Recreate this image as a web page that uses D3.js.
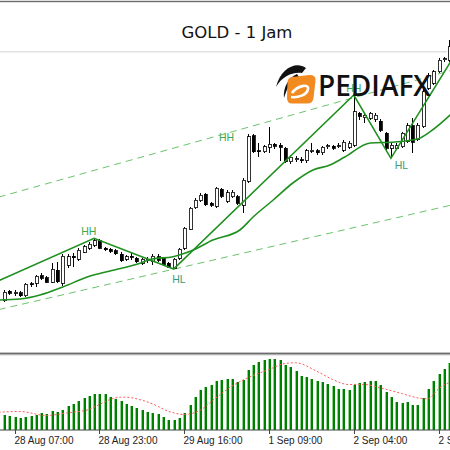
<!DOCTYPE html>
<html><head><meta charset="utf-8">
<script src="https://cdn.jsdelivr.net/npm/d3@7"></script>
<style>html,body{margin:0;padding:0;background:#fff;}svg{display:block;}</style>
</head><body>
<svg id="c" width="450" height="450"></svg>
<script>
// ---- data ----
const title = "GOLD - 1 Jam";
const open  = [1274.93,1275.90,1275.70,1275.73,1275.43,1276.65,1276.67,1277.43,1277.23,1276.77,1278.00,1276.70,1278.50,1279.40,1279.07,1279.80,1280.20,1280.50,1280.95,1280.20,1280.07,1279.95,1279.60,1279.07,1279.37,1279.17,1278.70,1279.00,1278.83,1279.33,1279.17,1278.67,1278.20,1279.17,1280.17,1282.10,1284.23,1284.95,1285.57,1284.67,1284.40,1286.07,1284.90,1285.33,1285.33,1284.50,1286.90,1291.45,1289.93,1289.83,1290.27,1290.57,1290.50,1290.17,1288.83,1289.07,1289.05,1288.93,1289.88,1289.93,1289.73,1290.32,1290.40,1290.35,1290.00,1290.27,1290.50,1293.67,1293.23,1293.17,1293.10,1292.90,1291.67,1290.17,1290.17,1290.33,1290.83,1292.43,1291.10,1292.33,1296.17,1296.67,1297.83,1299.05,1299.00];
const high  = [1276.00,1276.05,1276.00,1275.90,1276.70,1276.83,1277.50,1277.67,1277.40,1278.67,1278.83,1279.60,1279.60,1279.67,1280.17,1280.50,1280.80,1281.17,1281.10,1280.30,1280.20,1280.10,1279.80,1279.50,1279.75,1279.33,1279.20,1279.30,1279.60,1279.60,1279.30,1278.80,1279.20,1280.20,1282.30,1284.30,1285.20,1285.75,1285.73,1284.83,1286.33,1286.20,1286.00,1286.00,1285.50,1287.17,1291.60,1291.60,1290.67,1290.50,1292.30,1290.70,1290.67,1290.30,1289.50,1289.40,1289.30,1290.10,1290.67,1290.10,1290.43,1290.60,1290.55,1290.67,1290.97,1290.90,1295.50,1293.83,1293.70,1293.83,1293.67,1293.10,1291.83,1290.67,1290.67,1291.83,1292.67,1293.17,1292.67,1296.17,1297.70,1298.00,1299.20,1299.30,1301.00];
const low   = [1274.80,1275.50,1275.40,1275.30,1275.30,1276.33,1276.33,1277.00,1276.67,1276.67,1276.73,1276.40,1278.20,1278.33,1278.90,1279.67,1280.00,1280.33,1280.07,1279.90,1279.75,1279.50,1278.80,1278.90,1279.05,1278.70,1278.55,1278.70,1278.50,1278.80,1278.40,1278.20,1278.10,1279.05,1280.00,1282.00,1284.10,1284.80,1284.40,1284.33,1284.23,1285.20,1284.70,1285.17,1284.50,1283.70,1286.75,1289.70,1289.33,1289.67,1289.70,1290.10,1288.90,1288.70,1288.60,1288.80,1288.75,1288.75,1289.67,1289.55,1289.55,1290.13,1290.00,1290.17,1289.83,1290.10,1290.33,1293.00,1292.70,1293.00,1292.83,1291.83,1290.00,1289.17,1290.00,1290.17,1290.67,1289.67,1290.93,1292.17,1296.00,1296.50,1297.70,1298.85,1298.80];
const close = [1275.80,1275.67,1275.80,1275.43,1276.57,1276.55,1277.40,1277.17,1276.77,1278.07,1276.83,1279.40,1279.33,1279.25,1280.00,1280.33,1280.60,1280.95,1280.17,1280.05,1279.87,1279.65,1278.95,1279.33,1279.27,1278.85,1279.07,1279.05,1279.40,1279.00,1278.55,1278.27,1279.07,1280.10,1282.17,1284.17,1284.97,1285.50,1284.55,1284.50,1286.17,1285.40,1285.73,1285.80,1284.67,1287.00,1291.33,1289.83,1289.83,1290.33,1290.60,1290.40,1290.30,1288.83,1289.27,1289.12,1288.93,1289.93,1289.98,1289.73,1290.27,1290.42,1290.17,1290.45,1290.77,1290.70,1293.83,1293.40,1293.50,1293.67,1293.50,1292.00,1290.17,1290.50,1290.43,1291.67,1292.43,1290.77,1292.50,1295.83,1297.50,1297.83,1299.00,1299.15,1300.33];

// oscillator histogram and its signal line
const hist = [1.5,1.4,1.3,1.13,1.23,1.33,1.5,1.67,1.6,1.87,1.73,2.0,2.33,2.6,2.83,3.13,3.4,3.6,3.6,3.53,3.27,3.07,2.83,2.6,2.4,2.13,1.93,1.8,1.67,1.6,1.27,1.0,1.0,1.13,1.67,2.5,3.27,4.0,4.27,4.47,4.83,4.93,5.03,5.03,4.77,5.0,6.0,6.47,6.73,6.93,7.07,7.07,6.93,6.5,6.23,5.9,5.4,5.27,5.07,4.9,4.73,4.6,4.4,4.1,4.07,3.93,4.43,4.67,4.8,4.9,4.83,4.47,3.77,3.23,2.8,2.67,2.73,2.47,2.47,3.13,4.07,4.9,5.6,6.07,6.67];
const sigIdx = [-1,3,8,12,16,18,20,22,23,26,28,31,34,37,40,43,46,50,53,55,59,62,65,68,71,75,78,80,82,84.5];
const sigVal = [1.73,1.8,1.4,1.67,2.0,2.5,3.0,3.23,3.23,2.93,2.57,1.83,1.5,1.93,3.17,4.33,5.17,6.0,6.6,6.67,5.83,5.0,4.5,4.5,4.17,3.6,3.17,3.07,4.07,4.83];

// moving average (readings)
const maIdx = [-1,3,6.8,11.1,15.7,20,25.8,27.9,31.9,35.7,39.4,44.5,47,50.8,54.5,58.3,61.5,64.3,69.1,73.8,78,80.4,85];
const maVal = [1275.0,1275.1,1275.5,1276.3,1277.3,1277.9,1278.7,1279.1,1279.33,1280.0,1281.0,1282.0,1283.3,1285.0,1286.7,1288.0,1288.5,1289.3,1290.7,1290.8,1291.1,1291.83,1293.9];

// zigzag swing points
const zzIdx = [-2,17,32,66,73,86];
const zzVal = [1276.7,1281.17,1278.1,1295.5,1289.17,1300.3];

// channel (dashed) lines: [idx0, val0, idx1, val1]
const chanUpper = [-1,1285.29,86,1298.2];
const chanLower = [-1,1274.04,86,1284.69];

// swing labels
const lblText  = ["HH","HL","HH","HH","HL"];
const lblIdx   = [16,33,42,66,75];
const lblPrice = [1281.9,1277.07,1291.33,1296.2,1288.5];

// time axis
const tickIdx = [2,18,34,50,66,82];
const tickLbl = ["28 Aug 07:00","28 Aug 23:00","29 Aug 16:00","1 Sep 09:00","2 Sep 04:00","2 Sep 20:00"];

// ---- drawing ----
const svg = d3.select("#c");
const W = 450;
const x = d3.scaleLinear().domain([0,84]).range([4,449.2]);
const y = d3.scaleLinear().domain([1270,1305]).range([350,0]);
const yh = d3.scaleLinear().domain([0,7.5]).range([429.5,354.5]);

svg.append("rect").attr("width",450).attr("height",450).attr("fill","#fff");
const defs = svg.append("defs");
defs.append("clipPath").attr("id","pc").append("rect").attr("x",0).attr("y",0).attr("width",W).attr("height",352);
defs.append("clipPath").attr("id","hc").append("rect").attr("x",0).attr("y",356).attr("width",W).attr("height",74);

const P = svg.append("g").attr("clip-path","url(#pc)");

// channel lines
[chanUpper, chanLower].forEach(c=>{
  P.append("line").attr("x1",x(c[0])).attr("y1",y(c[1])).attr("x2",x(c[2])).attr("y2",y(c[3]))
   .attr("stroke","#6cc36c").attr("stroke-width",1).attr("stroke-dasharray","7,5");
});

// candles
const idx = d3.range(open.length);
const cg = P.append("g").attr("shape-rendering","crispEdges");
cg.selectAll("line.w").data(idx).join("line")
  .attr("x1",i=>Math.round(x(i))+0.5).attr("x2",i=>Math.round(x(i))+0.5)
  .attr("y1",i=>y(high[i])).attr("y2",i=>y(low[i]))
  .attr("stroke","#000").attr("stroke-width",1);
cg.selectAll("rect.b").data(idx).join("rect")
  .attr("x",i=>Math.round(x(i))-1)
  .attr("y",i=>y(Math.max(open[i],close[i])))
  .attr("width",3)
  .attr("height",i=>Math.max(1,Math.abs(y(open[i])-y(close[i]))))
  .attr("fill",i=>close[i]>=open[i]?"#fff":"#000")
  .attr("stroke","#000").attr("stroke-width",0.8);

// moving average
P.append("path").datum(maIdx.map((d,i)=>[d,maVal[i]]))
  .attr("d",d3.line().x(d=>x(d[0])).y(d=>y(d[1])).curve(d3.curveMonotoneX))
  .attr("fill","none").attr("stroke","#1f8f1f").attr("stroke-width",1.6);
// zigzag
P.append("path").datum(zzIdx.map((d,i)=>[d,zzVal[i]]))
  .attr("d",d3.line().x(d=>x(d[0])).y(d=>y(d[1])))
  .attr("fill","none").attr("stroke","#1f8f1f").attr("stroke-width",1.6);

// labels
P.selectAll("text.l").data(lblText).join("text")
  .attr("x",(d,i)=>x(lblIdx[i])).attr("y",(d,i)=>y(lblPrice[i])+4)
  .attr("text-anchor","middle").attr("font-family","Liberation Sans, Arial, sans-serif")
  .attr("font-size",10.5).attr("fill",d=>d==="HH"?"#3aa84e":"#3a9c7a").text(d=>d);

// logo
const L = svg.append("g");
L.append("path").attr("d","M306 68 C296 61 281 68 276 87 C282 77 291 72 302 73 Z").attr("fill","#111");
L.append("path").attr("d","M297 74 C288 78 283 88 284 98 C287 88 291 81 299 77 Z").attr("fill","#111");
L.append("path").attr("d","M292 77 L309 75 Q316 74 315.5 81 L313.5 98 Q313 103.5 307 103.5 L292 103.5 Q287 103.5 287 98 L287.5 82 Q288 77.5 292 77 Z").attr("fill","#f28a22");
L.append("path").attr("d","M292 93 C297 86 309 83 308 89 C307 95 298 98 291 97").attr("fill","none").attr("stroke","#fff").attr("stroke-width",2.6);
L.append("text").attr("x",318).attr("y",96).attr("font-family","Open Sans, Noto Sans, sans-serif")
  .attr("font-size",28).attr("font-weight",600).attr("fill","#111").text("PEDIAFX");

// title box
svg.append("rect").attr("x",0).attr("y",0).attr("width",447).attr("height",51).attr("fill","#fff");
svg.append("rect").attr("x",0).attr("y",51).attr("width",447).attr("height",1.5).attr("fill","#e2e2e2");
svg.append("rect").attr("x",0).attr("y",0.8).attr("width",450).attr("height",1.4).attr("fill","#6a6a6a");
svg.append("text").attr("x",237).attr("y",37.5).attr("text-anchor","middle")
  .attr("font-family","Comic Sans MS, DejaVu Sans, sans-serif").attr("font-size",16.5).attr("fill","#111").text(title);

// panel separator
svg.append("rect").attr("x",0).attr("y",352.6).attr("width",W).attr("height",1.4).attr("fill","#6c6c6c");
svg.append("rect").attr("x",0).attr("y",354).attr("width",W).attr("height",1.3).attr("fill","#b0b0b0");

// histogram
const H = svg.append("g").attr("clip-path","url(#hc)").attr("shape-rendering","crispEdges");
H.selectAll("rect.hl").data(hist).join("rect")
  .attr("x",(d,i)=>Math.round(x(i))-1).attr("y",d=>yh(d)).attr("width",1).attr("height",d=>yh(0)-yh(d)).attr("fill","#8fd08f");
H.selectAll("rect.hd").data(hist).join("rect")
  .attr("x",(d,i)=>Math.round(x(i))).attr("y",d=>yh(d)).attr("width",2).attr("height",d=>yh(0)-yh(d)).attr("fill","#008000");
svg.append("path").datum(sigIdx.map((d,i)=>[d,sigVal[i]]))
  .attr("clip-path","url(#hc)")
  .attr("d",d3.line().x(d=>x(d[0])).y(d=>yh(d[1])).curve(d3.curveMonotoneX))
  .attr("fill","none").attr("stroke","#ff5a5a").attr("stroke-width",1).attr("stroke-dasharray","2,2");

// time axis
const ax = svg.append("g").attr("transform","translate(0,430)");
ax.append("rect").attr("x",0).attr("y",-0.5).attr("width",W).attr("height",1).attr("fill","#444");
ax.selectAll("rect.t").data(tickIdx).join("rect")
  .attr("x",d=>Math.round(x(d))).attr("y",0).attr("width",1).attr("height",4).attr("fill","#444");
ax.selectAll("text").data(tickLbl).join("text")
  .attr("x",(d,i)=>Math.round(x(tickIdx[i]))-0.5).attr("y",13.5)
  .attr("font-family","Liberation Sans, Arial, sans-serif").attr("font-size",10).attr("fill","#222").text(d=>d);
</script>
</body></html>
